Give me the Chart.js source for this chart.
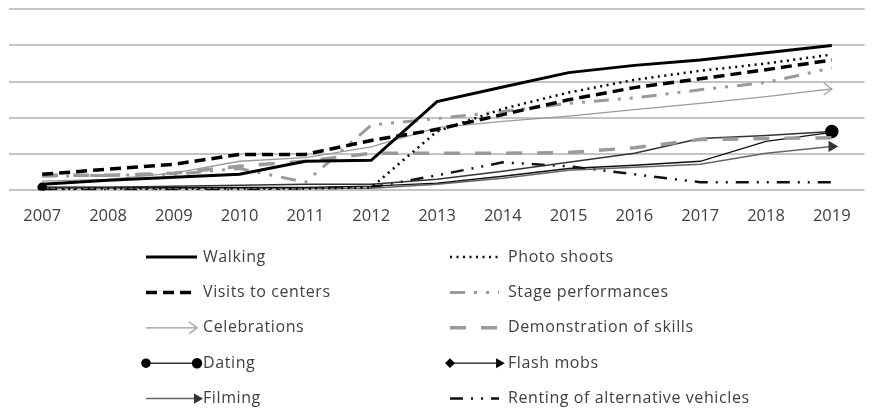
<!DOCTYPE html>
<html>
<head>
<meta charset="utf-8">
<style>
  body { margin: 0; background: #fff; }
  .chart-box { position: relative; width: 874px; height: 411px; }
</style>
</head>
<body>
<div class="chart-box">
  <canvas id="activitiesChart"></canvas>
</div>
<script src="https://cdn.jsdelivr.net/npm/chart.js@4.4.1/dist/chart.umd.min.js"></script>
<script>
  // values (no y labels there, scale taken as 0-100)
  const years = ["2007", "2008", "2009", "2010", "2011", "2012", "2013",
                 "2014", "2015", "2016", "2017", "2018", "2019"];
  const walking      = [3.3, 5.5, 7.2, 8.8, 16, 16.5, 49, 57, 65, 69, 72, 76, 80];
  const photoShoots  = [0.5, 1, 1, 1, 1, 1.5, 32.5, 45, 54, 61, 66, 70, 75];
  const visits       = [8.8, 11.6, 14.3, 19.8, 19.8, 27.5, 33.6, 41.8, 50, 56.7, 61.6, 66.6, 72];
  const stage        = [7.7, 8.2, 8.8, 12, 4.4, 36, 39.6, 43.5, 48, 51, 55.5, 59.5, 67.6];
  const celebrations = [5, 6, 9.4, 16, 18, 24, 34.6, 38, 41, 44.5, 48, 51.7, 56];
  const demoSkills   = [8.2, 8.2, 9.4, 13.2, 16, 20.4, 20.4, 20.4, 20.8, 23.5, 28, 28.6, 29];
  const dating       = [1.6, 1.6, 2.2, 2.7, 3.3, 3.3, 6, 10.5, 15.4, 20.4, 28.6, 30.3, 32.5];
  const flashMobs    = [1.6, 1.6, 1.6, 1.6, 1.6, 2.2, 3.9, 7.7, 12, 13.8, 16, 27, 32];
  const filming      = [1.1, 1.1, 1.1, 1.1, 1.1, 1.1, 3.3, 6.6, 11, 12.7, 14.3, 20.4, 24.2];
  const renting      = [0.5, 0.5, 0.5, 0.5, 1.1, 1.6, 8.2, 15.4, 13.2, 8.8, 4.4, 4.4, 4.4];

  // marker only on first / last point
  function atEnds(first, last, rest) {
    return years.map((y, i) => i === 0 ? first : (i === years.length - 1 ? last : rest));
  }

  // open arrow head for Celebrations, tip sits on the point
  const chevron = document.createElement("canvas");
  chevron.width = 22;
  chevron.height = 22;
  const cc = chevron.getContext("2d");
  cc.strokeStyle = "#9a9a9a";
  cc.lineWidth = 1.3;
  cc.beginPath();
  cc.moveTo(3, 5);
  cc.lineTo(11, 11);
  cc.lineTo(3, 17);
  cc.stroke();

  // legend drawn under the plot in two columns, using each dataset's own style
  const sampleLegend = {
    id: "sampleLegend",
    afterDraw(chart) {
      const ctx = chart.ctx;
      chart.data.datasets.forEach((ds, i) => {
        const col = i % 2;
        const y = 257 + Math.floor(i / 2) * 35.4;
        const x0 = col ? 450 : 146;
        const x1 = col ? 499 : 197;
        ctx.save();
        ctx.strokeStyle = ds.borderColor;
        ctx.lineWidth = ds.borderWidth;
        ctx.setLineDash(ds.borderDash || []);
        ctx.beginPath();
        ctx.moveTo(x0, y);
        ctx.lineTo(x1, y);
        ctx.stroke();
        ctx.setLineDash([]);
        const n = ds.data.length - 1;
        [[0, x0], [n, x1]].forEach(([k, x]) => {
          const r = Array.isArray(ds.pointRadius) ? ds.pointRadius[k] : 0;
          if (!r) return;
          ctx.fillStyle = ds.pointBackgroundColor;
          ctx.strokeStyle = ds.pointBorderColor;
          Chart.helpers.drawPoint(ctx, {
            pointStyle: Array.isArray(ds.pointStyle) ? ds.pointStyle[k] : ds.pointStyle,
            rotation: ds.pointRotation ? ds.pointRotation[k] : 0,
            radius: Math.min(r, 4.5),
            borderWidth: 1
          }, x, y);
        });
        ctx.fillStyle = "#404040";
        ctx.font = '16px "Open Sans"';
        ctx.letterSpacing = "0.6px";
        ctx.textBaseline = "middle";
        ctx.fillText(ds.label, col ? 508 : 203, y);
        ctx.restore();
      });
    }
  };

  const ctx = document.getElementById("activitiesChart").getContext("2d");

  const activitiesChart = new Chart(ctx, {
    type: "line",
    data: {
      labels: years,
      datasets: [
        { label: "Walking", data: walking, borderColor: "#000", borderWidth: 3, pointRadius: 0 },
        { label: "Photo shoots", data: photoShoots, borderColor: "#000", borderWidth: 2.5,
          borderDash: [2, 4.5], pointRadius: 0 },
        { label: "Visits to centers", data: visits, borderColor: "#000", borderWidth: 3.5,
          borderDash: [11, 6], pointRadius: 0 },
        { label: "Stage performances", data: stage, borderColor: "#9a9a9a", borderWidth: 3,
          borderDash: [15, 9, 3, 9, 3, 9], pointRadius: 0 },
        { label: "Celebrations", data: celebrations, borderColor: "#9a9a9a", borderWidth: 1.3,
          pointStyle: atEnds("circle", chevron, "circle"), pointRadius: atEnds(0, 8, 0),
          pointBackgroundColor: "#9a9a9a", pointBorderColor: "#9a9a9a" },
        { label: "Demonstration of skills", data: demoSkills, borderColor: "#9a9a9a", borderWidth: 3.5,
          borderDash: [16, 15], pointRadius: 0 },
        { label: "Dating", data: dating, borderColor: "#333", borderWidth: 1.5,
          pointStyle: "circle", pointRadius: atEnds(4, 6, 0),
          pointBackgroundColor: "#000", pointBorderColor: "#000" },
        { label: "Flash mobs", data: flashMobs, borderColor: "#111", borderWidth: 1.3,
          pointStyle: atEnds("rectRot", "triangle", "circle"), pointRotation: atEnds(0, 90, 0),
          pointRadius: atEnds(4, 5, 0), pointBackgroundColor: "#000", pointBorderColor: "#000" },
        { label: "Filming", data: filming, borderColor: "#666", borderWidth: 1.5,
          pointStyle: atEnds("circle", "triangle", "circle"), pointRotation: atEnds(0, 90, 0),
          pointRadius: atEnds(0, 5, 0), pointBackgroundColor: "#333", pointBorderColor: "#333" },
        { label: "Renting of alternative vehicles", data: renting, borderColor: "#111", borderWidth: 2.5,
          borderDash: [13, 8, 2, 8, 2, 8], pointRadius: 0 }
      ]
    },
    options: {
      responsive: true,
      maintainAspectRatio: false,
      animation: false,
      layout: { padding: { top: 4, left: 8, right: 2, bottom: 169 } },
      plugins: {
        legend: { display: false },
        tooltip: { enabled: false }
      },
      scales: {
        x: {
          offset: true,
          grid: { display: false, drawTicks: false },
          border: { display: false },
          ticks: { color: "#404040", font: { family: "Open Sans", size: 16.5 }, padding: 16 }
        },
        y: {
          min: 0,
          max: 100,
          ticks: { display: false, stepSize: 20 },
          border: { display: false },
          grid: { color: "#c4c4c4", lineWidth: 2, drawTicks: false }
        }
      }
    },
    plugins: [sampleLegend]
  });
</script>
</body>
</html>
